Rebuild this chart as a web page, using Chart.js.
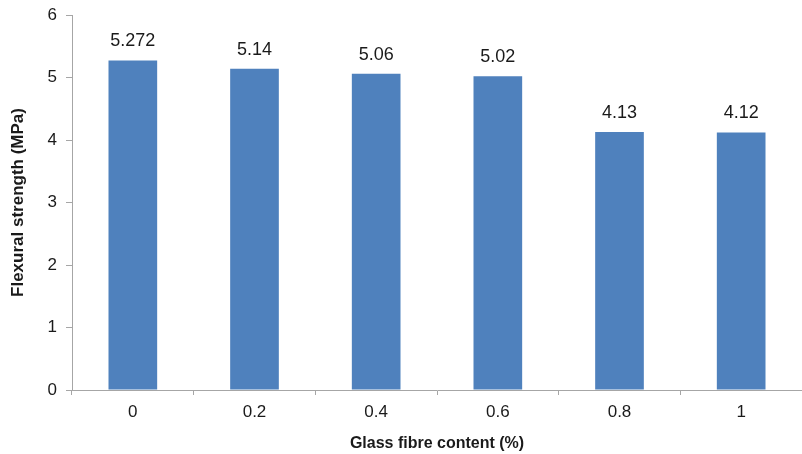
<!DOCTYPE html>
<html>
<head>
<meta charset="utf-8">
<style>
  html, body { margin: 0; padding: 0; background: #fff; }
  #wrap { width: 802px; height: 454px; }
</style>
<script src="https://cdn.jsdelivr.net/npm/chart.js@4/dist/chart.umd.min.js"></script>
</head>
<body>
<div id="wrap"><canvas id="flexChart"></canvas></div>
<script>
const categories = ["0", "0.2", "0.4", "0.6", "0.8", "1"];
const strength = [5.272, 5.14, 5.06, 5.02, 4.13, 4.12];
const valueLabels = ["5.272", "5.14", "5.06", "5.02", "4.13", "4.12"];
const yTicks = [0, 1, 2, 3, 4, 5, 6];

const fontFam = "'Liberation Sans', Arial, Helvetica, sans-serif";

// labels above the bars
const barLabels = {
  id: 'barLabels',
  afterDatasetsDraw(chart) {
    const c = chart.ctx;
    const meta = chart.getDatasetMeta(0);
    c.save();
    c.font = "18px " + fontFam;
    c.fillStyle = "#1a1a1a";
    c.textAlign = "center";
    c.textBaseline = "bottom";
    meta.data.forEach(function (bar, i) {
      c.fillText(valueLabels[i], bar.x, bar.y - 10);
    });
    c.restore();
  }
};

const ctx = document.getElementById('flexChart').getContext('2d');
new Chart(ctx, {
  type: 'bar',
  data: {
    labels: categories,
    datasets: [{
      data: strength,
      backgroundColor: "#4F81BD",
      borderWidth: 0,
      barPercentage: 0.4,
      categoryPercentage: 1.0
    }]
  },
  options: {
    responsive: true,
    maintainAspectRatio: false,
    animation: false,
    layout: { padding: { top: 15, right: 0, left: 0, bottom: 0 } },
    plugins: {
      legend: { display: false },
      tooltip: { enabled: false }
    },
    scales: {
      x: {
        grid: { display: true, drawOnChartArea: false, drawTicks: true, tickLength: 5, color: "#a6a6a6", offset: true },
        border: { display: true, color: "#a6a6a6", width: 1 },
        ticks: { color: "#1a1a1a", font: { family: fontFam, size: 17 }, padding: 7 },
        title: {
          display: true,
          text: "Glass fibre content (%)",
          color: "#1a1a1a",
          font: { family: fontFam, size: 16, weight: "bold" },
          padding: { top: 4, bottom: 1 }
        },
        afterFit(axis) { axis.height = 64; }
      },
      y: {
        min: 0,
        max: 6,
        afterBuildTicks(axis) { axis.ticks = yTicks.map(v => ({ value: v })); },
        grid: { display: true, drawOnChartArea: false, drawTicks: true, tickLength: 6, color: "#a6a6a6" },
        border: { display: true, color: "#a6a6a6", width: 1 },
        ticks: { color: "#1a1a1a", font: { family: fontFam, size: 17 }, padding: 9 },
        title: {
          display: true,
          text: "Flexural strength (MPa)",
          color: "#1a1a1a",
          font: { family: fontFam, size: 17, weight: "bold" },
          padding: { top: 8, bottom: 2 }
        },
        afterFit(axis) {
          axis.width = 72;
          axis.paddingTop = 2;
          axis.paddingBottom = 2;
        }
      }
    }
  },
  plugins: [barLabels]
});
</script>
</body>
</html>
